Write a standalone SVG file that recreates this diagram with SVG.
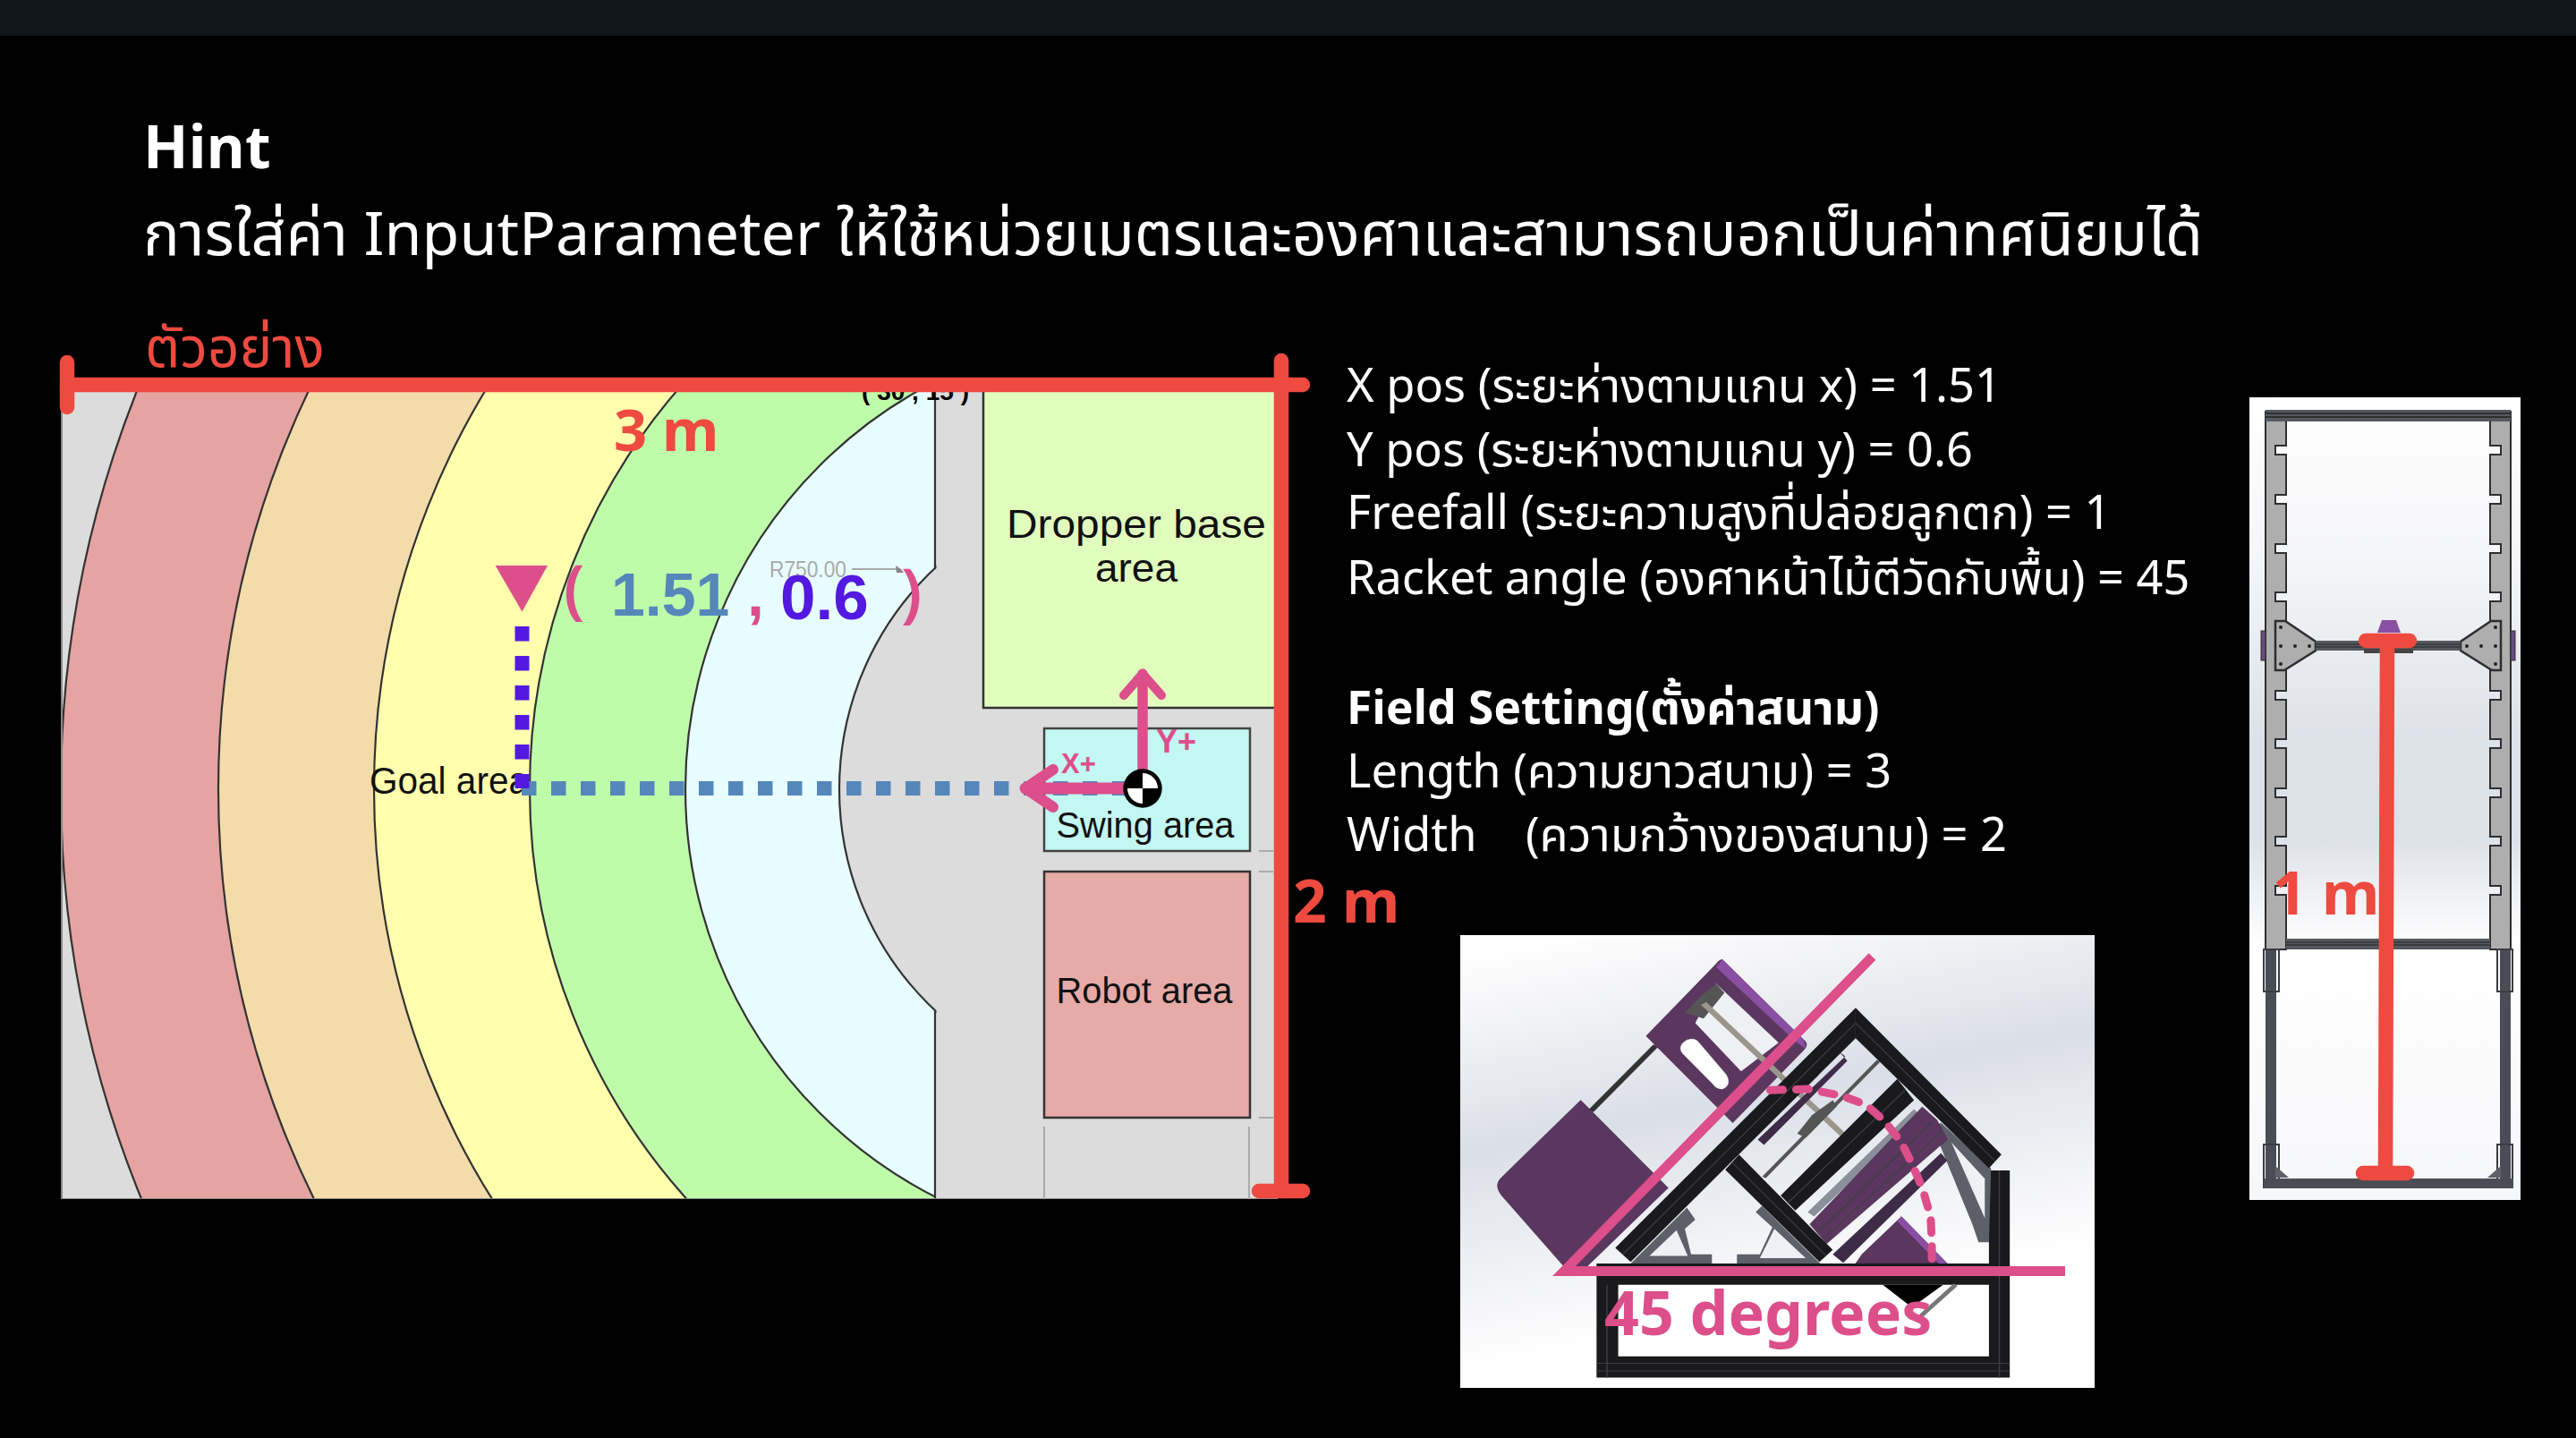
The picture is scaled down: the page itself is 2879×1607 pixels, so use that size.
<svg xmlns="http://www.w3.org/2000/svg" width="2879" height="1607" viewBox="0 0 2879 1607">
<defs>
<style>
.t{font-family:"Noto Sans Thai","IBM Plex Sans Thai","Noto Sans","Open Sans",sans-serif;fill:#fff}
.f{font-family:"Liberation Sans",Arial,sans-serif;fill:#111}
.h{font-family:"Noto Sans","Open Sans",sans-serif;font-weight:700}
.red{fill:#ee4a3f}
.pink{fill:#dc4f8a}
.arc{stroke:#333;stroke-width:2.2}
.rb{fill:none;stroke:#ee4a3f;stroke-width:16.5;stroke-linecap:round}
.ar{fill:none;stroke:#dc4f8a;stroke-linecap:round;stroke-linejoin:round}
.blk{fill:#1a1a1c}
.pur{fill:#5b3760;stroke:#2a1c30;stroke-width:1}
.gus{fill:#5d6069}
.st{stroke:#3f3f42;stroke-width:3;fill:none}
</style>
<linearGradient id="g1" gradientUnits="userSpaceOnUse" x1="1943" y1="1004" x2="2033" y2="1455">
<stop offset="0" stop-color="#ffffff"/><stop offset=".2" stop-color="#f1f2f5"/><stop offset=".48" stop-color="#dadee7"/><stop offset=".62" stop-color="#e6e8ee"/><stop offset="1" stop-color="#ffffff"/>
</linearGradient>
<linearGradient id="g2" x1="0" y1="0" x2="0" y2="1">
<stop offset="0" stop-color="#ffffff"/><stop offset=".2" stop-color="#f5f6f8"/><stop offset=".43" stop-color="#dde1e8"/><stop offset=".55" stop-color="#dde1e8"/><stop offset=".68" stop-color="#ffffff"/><stop offset="1" stop-color="#f6f7f9"/>
</linearGradient>
<clipPath id="fc"><rect x="68" y="430" width="1360" height="910"/></clipPath>
<g id="rail">
<path d="M2532 460H2555V498H2543V508H2555V553H2543V563H2555V608H2543V618H2555V662H2543V672H2555V772H2543V782H2555V826H2543V836H2555V881H2543V891H2555V935H2543V945H2555V990H2543V1000H2555V1061H2532Z" fill="#aeaeae" stroke="#2e2e30" stroke-width="2"/>
<path d="M2543 694H2554L2588 717V727L2553 749H2543Z" fill="#aeaeae" stroke="#2e2e30" stroke-width="2.5"/>
<g fill="#222"><circle cx="2549" cy="701" r="2"/><circle cx="2549" cy="722" r="2"/><circle cx="2565" cy="722" r="2"/><circle cx="2581" cy="722" r="2"/><circle cx="2549" cy="742" r="2"/></g>
<rect x="2527" y="705" width="5" height="33" fill="#6b4a80" stroke="#2e2e30"/>
<path d="M2532 1061H2544V1320H2532Z" fill="#4a4d55"/>
<rect x="2530" y="1061" width="17" height="47" fill="none" stroke="#3a3c42" stroke-width="2"/>
<rect x="2530" y="1279" width="17" height="48" fill="none" stroke="#3a3c42" stroke-width="2"/>
<path d="M2543 1303L2558 1316H2543Z" fill="#5d6069"/>
</g>
</defs>
<rect width="2879" height="1607" fill="#000"/>
<rect width="2879" height="40" fill="#11161b"/>

<g id="title">
<text class="t" x="160" y="188" font-size="66" font-weight="700">Hint</text>
<text class="t" x="160" y="285" font-size="68">การใส่ค่า InputParameter ให้ใช้หน่วยเมตรและองศาและสามารถบอกเป็นค่าทศนิยมได้</text>
<text class="t" x="162" y="410" font-size="62" style="fill:#ee4a3f">ตัวอย่าง</text>
</g>

<g id="field">
<g clip-path="url(#fc)">
<rect x="68" y="430" width="1360" height="910" fill="#dcdcdc"/>
<circle class="arc" cx="1277" cy="882" r="1209" fill="#e5a3a1"/>
<circle class="arc" cx="1277" cy="882" r="1033" fill="#f4dbaa"/>
<circle class="arc" cx="1277" cy="882" r="859" fill="#ffffae"/>
<circle class="arc" cx="1277" cy="882" r="685" fill="#bffcaa"/>
<circle class="arc" cx="1277" cy="882" r="511" fill="#e8fdff"/>
<rect x="1045" y="430" width="400" height="920" fill="#dcdcdc"/>
<circle class="arc" cx="1277" cy="882" r="339" fill="#dcdcdc"/>
<rect x="1046.500" y="430" width="400" height="920" fill="#dcdcdc"/>
<path class="arc" d="M1045 430V636M1045 1129V1340" fill="none" stroke-width="3"/>
<rect x="68" y="1339" width="1360" height="2" fill="#888"/>
<rect x="68" y="430" width="2" height="910" fill="#888"/>
<rect x="1099" y="430" width="330" height="361" fill="#e0fdbd" stroke="#333" stroke-width="2.500"/>
<rect x="1167" y="814" width="230" height="137" fill="#c2f7f2" stroke="#444" stroke-width="2.500"/>
<rect x="1167" y="974" width="230" height="275" fill="#e6aaa7" stroke="#333" stroke-width="2.500"/>
<path d="M1407 951H1423M1407 974H1423M1407 1249H1423M1167 1259V1340M1396 1259V1340" stroke="#aaa" stroke-width="2" fill="none"/>
<text x="963" y="447" font-family="Liberation Sans" font-weight="700" font-size="28" fill="#000" textLength="120" lengthAdjust="spacing">( 30 , 15 )</text>
<text x="860" y="645" font-family="Liberation Sans" font-size="25" fill="#aaa" textLength="86" lengthAdjust="spacingAndGlyphs">R750.00</text>
<path d="M952 636H1003" stroke="#aaa" stroke-width="2"/>
<path d="M1001 632L1007 636L1010 640L1002 640Z" fill="#888"/>
<text class="f" x="1270" y="601" font-size="45" text-anchor="middle" textLength="290" lengthAdjust="spacingAndGlyphs">Dropper base</text>
<text class="f" x="1270" y="650" font-size="45" text-anchor="middle" textLength="92" lengthAdjust="spacingAndGlyphs">area</text>
<text class="f" x="1280" y="936" font-size="40" text-anchor="middle" textLength="199" lengthAdjust="spacingAndGlyphs">Swing area</text>
<text class="f" x="1279" y="1121" font-size="40" text-anchor="middle" textLength="197" lengthAdjust="spacingAndGlyphs">Robot area</text>
<text class="f" x="413" y="887" font-size="43" textLength="178" lengthAdjust="spacingAndGlyphs">Goal area</text>
</g>
</g>

<g id="connectors">
<path d="M583 881H1262" stroke="#5587bb" stroke-width="16" stroke-dasharray="16.500 16.500" fill="none"/>
<path d="M583.500 700V881" stroke="#5319e0" stroke-width="16" stroke-dasharray="16.500 16.500" fill="none"/>
<path class="ar" d="M1258 881H1146" stroke-width="13"/>
<path class="ar" d="M1177 860L1146 881L1177 902" stroke-width="12"/>
<path class="ar" d="M1277 860V753" stroke-width="11.500"/>
<path class="ar" d="M1256 777L1277 753L1298 777" stroke-width="10"/>
<path class="rb" d="M75 430H1456"/>
<path class="rb" d="M75 405V455"/>
<path class="rb" d="M1432 403V1331"/>
<path class="rb" d="M1407 1331H1456"/>
</g>

<g id="origin">
<circle cx="1277" cy="881" r="21.700" fill="#000"/>
<path d="M1277 881V864A17 17 0 0 1 1294 881ZM1277 881V898A17 17 0 0 1 1260 881Z" fill="#fff"/>
</g>

<g id="labels">
<path class="pink" d="M553.600 632H612L583.500 683.500Z"/>
<text class="pink" x="630" y="684" font-family="Noto Sans" font-weight="600" font-size="72">(</text>
<text x="683" y="688" font-family="Liberation Sans" font-weight="700" font-size="68" fill="#5587bb">1.51</text>
<text class="pink" x="835" y="688" font-family="Liberation Sans" font-weight="700" font-size="68">,</text>
<text x="872" y="692" font-family="Liberation Sans" font-weight="700" font-size="71" fill="#5319e0">0.6</text>
<text class="pink" x="1007" y="688" font-family="Noto Sans" font-weight="600" font-size="72">)</text>
<text class="pink" x="1186" y="864" font-family="Liberation Sans" font-weight="700" font-size="31">X+</text>
<text class="pink" x="1292" y="841" font-family="Liberation Sans" font-weight="700" font-size="36">Y+</text>
<text class="h red" x="686" y="504" font-size="65">3 m</text>
<text class="h red" x="1445" y="1031" font-size="66">2 m</text>
</g>

<g id="params" font-size="52.300">
<text class="t" x="1505" y="449">X pos (ระยะห่างตามแกน x) = 1.51</text>
<text class="t" x="1505" y="521">Y pos (ระยะห่างตามแกน y) = 0.6</text>
<text class="t" x="1505" y="591">Freefall (ระยะความสูงที่ปล่อยลูกตก) = 1</text>
<text class="t" x="1505" y="664">Racket angle (องศาหน้าไม้ตีวัดกับพื้น) = 45</text>
<text class="t" x="1505" y="809" font-weight="700" font-size="51.500">Field Setting(ตั้งค่าสนาม)</text>
<text class="t" x="1505" y="880">Length (ความยาวสนาม) = 3</text>
<text class="t" x="1505" y="951" xml:space="preserve">Width    (ความกว้างของสนาม) = 2</text>
</g>

<g id="robot-side">
<rect x="1632" y="1045" width="709" height="506" fill="url(#g1)"/>
<g transform="translate(1620 1030) scale(.46556 .33806)">
<rect x="405" y="1200" width="890" height="237" fill="#fff"/>
<path class="blk" d="M353 1130H1295V822H1345V1507H353ZM405 1200V1437H1295V1200Z"/>
<path class="st" d="M353 1165H1295M353 1460H1345M353 1485H1345M378 1200V1507M1320 822V1507"/>
<path d="M1040 1200H1185L1110 1275Z" fill="#000"/>
<path d="M1215 1200L1130 1305" stroke="#777" stroke-width="12" fill="none"/>
<path d="M495 410L340 625" stroke="#333" stroke-width="14"/>
<path class="pur" d="M315 590L525 880L330 1140H275L125 905Q105 870 125 845Z"/>
<path class="pur" d="M655 125L850 390Q865 405 850 425L680 665L640 610L472 378L640 140Q648 125 655 125Z"/>
<path d="M640 150L655 125L850 390L855 420L830 395Z" fill="#8a4fa3"/>
<path d="M640 205L790 400L700 495L590 335Z" fill="#eef0f4"/>
<path d="M605 245L640 205L660 235L610 320L565 300Z" fill="#555"/>
<path d="M570 390Q590 380 600 400L665 505Q680 540 655 555Q640 555 630 535L558 435Q545 410 570 390Z" fill="#fff" stroke="#2a1c30"/>
<path d="M610 270L945 705" stroke="#9a968c" stroke-width="16"/>
<path d="M1030 460L755 845" stroke="#555" stroke-width="10"/>
<path d="M835 700L870 640L920 590L930 610L855 715Z" fill="#555"/>
<path class="gus" d="M435 1130L570 945L590 985L565 1015L580 1100H630V1130Z"/>
<path d="M480 1105L545 1020L572 1105Z" fill="#eef0f4"/>
<path class="gus" d="M690 1130V1100H745L775 1010L735 960L750 940L890 1130Z"/>
<path d="M745 1112L780 1015L855 1112Z" fill="#eef0f4"/>
<path class="gus" d="M1160 680L1180 665L1300 815L1295 1060H1270L1255 1000Z"/>
<path d="M1205 730L1285 850V980Z" fill="#eef0f4"/>
<path d="M1115 620L860 960L875 975L1130 640Z" fill="#8a8f99"/>
<path class="pur" d="M1135 612L1170 655L1195 720L905 1065L865 1000Z"/>
<path class="st" d="M1160 660L890 1020M1180 695L900 1045" stroke="#2a1c30"/>
<path d="M1180 765L1195 790L945 1128L920 1100Z" fill="#3e2b47"/>
<path class="pur" d="M1085 975L1195 1130H975L990 1100Z"/>
<path d="M1085 975L1195 1130H1175L1075 990Z" fill="#8a4fa3"/>
<path class="blk" d="M975 285L398 1078L435 1125L975 385Z"/>
<path class="blk" d="M975 285L1325 770L1295 815L975 385Z"/>
<path class="blk" d="M662 820L695 770L920 1085L888 1125Z"/>
<path class="blk" d="M1075 520L1115 590L830 955L795 905Z"/>
<path class="st" d="M975 335L416 1100M975 335L1310 792M678 795L904 1105M1095 555L812 930"/>
<path d="M950 445L740 720L755 738L955 460L935 430Z" fill="#3e2b47"/>
</g>
<path d="M2092.500 1069L1748 1420.500H2308" fill="none" stroke="#dc4f8a" stroke-width="10.800"/>
<path d="M1978.500 1218.300L2020.400 1217L2057.600 1224.400L2085.500 1234.500L2106.500 1253.100L2125.100 1276.800L2136.800 1300.400L2148.400 1327.500L2157.700 1359.600L2159.100 1388.400V1415" fill="none" stroke="#dc4f8a" stroke-width="9" stroke-dasharray="14 15" stroke-linecap="round"/>
<text class="h pink" x="1793" y="1492" font-size="68" font-weight="600">45 degrees</text>
</g>

<g id="robot-front">
<rect x="2514" y="444" width="303" height="897" fill="url(#g2)"/>
<use href="#rail"/>
<use href="#rail" transform="translate(5338 0) scale(-1 1)"/>
<rect x="2532" y="458" width="274" height="13" fill="#55585f"/>
<path d="M2532 462H2806M2532 466H2806" stroke="#222" stroke-width="1.500"/>
<rect x="2588" y="716" width="162" height="11" fill="#55585f"/>
<path d="M2588 720H2750M2588 723H2750" stroke="#222" stroke-width="1"/>
<path d="M2657 707L2662 693H2678L2683 707Z" fill="#8a4fa3"/>
<rect x="2642" y="725" width="55" height="5" fill="#444"/>
<rect x="2555" y="1049" width="228" height="12" fill="#55585f"/>
<path d="M2555 1053H2783M2555 1056H2783" stroke="#222" stroke-width="1"/>
<rect x="2530" y="1317" width="279" height="11" fill="#4a4d55"/>
<path class="rb" d="M2668 716L2666 1311M2644 716H2693M2641 1311H2690"/>
<text class="h red" x="2540" y="1022" font-size="66">1 m</text>
</g>
</svg>
